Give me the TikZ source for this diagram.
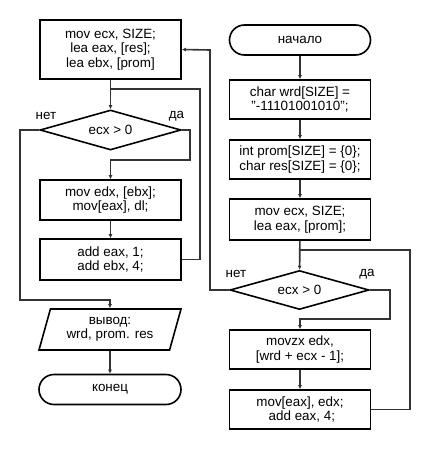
\documentclass[tikz,border=0pt]{standalone}
\usepackage{fontspec}
\setmainfont{Liberation Sans}[Ligatures=ResetAll]
\usetikzlibrary{arrows.meta,shapes.geometric}
\tikzset{
  blk/.style={draw=black,line width=1.6pt,align=center,minimum width=141,inner sep=2pt},
  term/.style={blk,rounded corners=15pt,minimum height=30},
  cond/.style={draw=black,line width=1.6pt,diamond,aspect=3.5,inner sep=0pt,minimum width=141,minimum height=40},
  io/.style={draw=black,line width=1.6pt,trapezium,trapezium left angle=65,trapezium right angle=115,
    trapezium stretches body,align=center,minimum width=142,minimum height=41,inner sep=0pt},
  flow/.style={draw=black!80,line width=1.6pt},
  lbl/.style={font=\fontsize{13.4}{14.5}\selectfont}
}
\begin{document}
\begin{tikzpicture}[x=1pt,y=-1pt,font=\fontsize{13.4}{14.5}\selectfont]
\useasboundingbox (0,0) rectangle (430,450);

\node[term] (start) at (300,40) {начало};
\node[blk,minimum height=39] (wrd) at (300,99.5) {char wrd[SIZE] =\\ "-11101001010";};
\node[blk,minimum height=39] (prom) at (300,159.5) {int prom[SIZE] = \{0\};\\ char res[SIZE] = \{0\};};
\node[blk,minimum height=41] (init1) at (300,219.5) {mov ecx, SIZE;\\ lea eax, [prom];};
\node[cond,minimum width=139,minimum height=39] (cnd1) at (299.5,290) {ecx > 0};
\node[blk,minimum height=39] (movzx) at (300,349.5) {movzx edx,\\{}[wrd + ecx - 1];};
\node[blk,minimum height=39] (store) at (300,409.5) {mov[eax], edx;\\ \ add eax, 4;};

\node[blk,minimum height=59] (init2) at (110.5,49.5) {mov ecx, SIZE;\\ lea eax, [res];\\ lea ebx, [prom]};
\node[cond] (cnd2) at (110.5,130) {ecx > 0};
\node[blk,minimum height=40] (movdl) at (110.5,200) {mov edx, [ebx];\\ mov[eax], dl;};
\node[blk,minimum height=41] (step2) at (110.5,259.5) {add eax, 1;\\ add ebx, 4;};
\node[io] (out) at (110,329.5) {вывод:\\ wrd, prom. res};
\node[term,minimum width=142] (stop) at (110,389.5) {конец};

\coordinate (loop1) at (410,250);
\coordinate (join1) at (300,250);
\coordinate (yes1) at (390,319);
\coordinate (no1) at (210,50);
\coordinate (loop2) at (200,89);
\coordinate (join2) at (110.5,89);
\coordinate (yes2) at (190,160);
\coordinate (no2) at (20,300);

\draw[flow,arrows={-Latex[length=4pt,width=4pt]}] (start) -- (wrd);
\draw[flow,arrows={-Latex[length=4pt,width=4pt]}] (wrd) -- (prom);
\draw[flow,arrows={-Latex[length=4pt,width=4pt]}] (prom) -- (init1);
\draw[flow,arrows={-Latex[length=4pt,width=4pt]}] (init1) -- (cnd1);
\draw[flow,arrows={-Latex[length=4pt,width=4pt]}] (cnd1.east) -| (yes1) -| (movzx.north);
\draw[flow,arrows={-Latex[length=4pt,width=4pt]}] (movzx) -- (store);
\draw[flow] (store.east) -| (loop1) -- (join1);
\draw[flow,arrows={-Latex[length=4pt,width=4pt]}] (cnd1.west) -| (no1) -- (init2.east);

\draw[flow,arrows={-Latex[length=4pt,width=4pt]}] (init2) -- (cnd2);
\draw[flow,arrows={-Latex[length=4pt,width=4pt]}] (cnd2.east) -| (yes2) -| (movdl.north);
\draw[flow,arrows={-Latex[length=4pt,width=4pt]}] (movdl) -- (step2);
\draw[flow] (step2.east) -| (loop2) -- (join2);
\draw[flow,arrows={-Latex[length=4pt,width=4pt]}] (cnd2.west) -| (no2) -| (out.north);
\draw[flow,arrows={-Latex[length=4pt,width=4pt]}] (out) -- (stop);

\node[lbl] (no2lbl) at (46,116) {нет};
\node[lbl] (yes2lbl) at (176.5,116) {да};
\node[lbl] (no1lbl) at (236,274) {нет};
\node[lbl] (yes1lbl) at (367,274) {да};
\end{tikzpicture}
\end{document}
